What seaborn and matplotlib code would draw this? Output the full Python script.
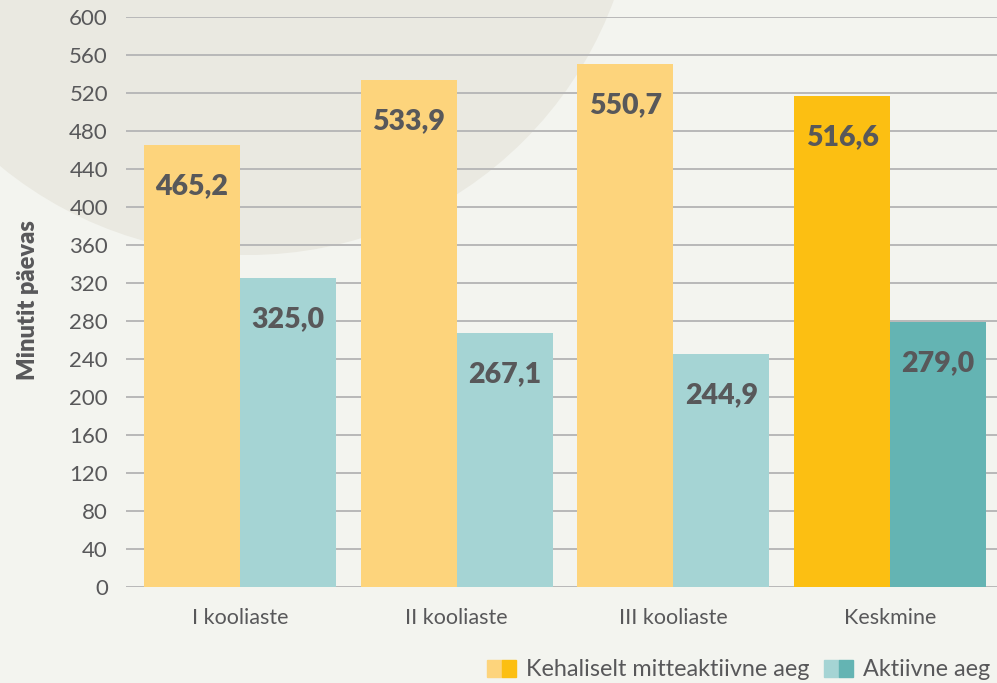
import matplotlib
matplotlib.use("Agg")
import matplotlib.pyplot as plt
import matplotlib.patches as mpatches
from matplotlib.transforms import IdentityTransform
from matplotlib.legend_handler import HandlerTuple
import seaborn as sns
import pandas as pd

categories = ["I kooliaste", "II kooliaste", "III kooliaste", "Keskmine"]
inactive = [465.2, 533.9, 550.7, 516.6]
active = [325.0, 267.1, 244.9, 279.0]
series_names = ["Kehaliselt mitteaktiivne aeg", "Aktiivne aeg"]
yticks = list(range(0, 601, 40))

BG = "#f3f4ef"
CIRCLE = "#eae9e1"
Y_LIGHT, Y_DARK = "#fdd47c", "#fcbf12"
T_LIGHT, T_DARK = "#a5d4d4", "#64b4b3"
TXT = "#58585a"
GRID = "#b8b8b8"

df = pd.DataFrame({
    "cat": categories * 2,
    "val": inactive + active,
    "series": [series_names[0]] * 4 + [series_names[1]] * 4,
})

sns.set_theme(style="white")
plt.rcParams["font.family"] = ["Lato", "DejaVu Sans"]

fig = plt.figure(figsize=(9.97, 6.83), dpi=100, facecolor=BG)
circ = mpatches.Circle((248, 683 + 135), 390, transform=IdentityTransform(),
                       facecolor=CIRCLE, edgecolor="none", zorder=0)
fig.add_artist(circ)

ax = fig.add_axes([126 / 997, 96 / 683, 1 - 126 / 997, (587 - 17) / 683])
ax.set_facecolor("none")
ax.set_zorder(1)

sns.barplot(data=df, x="cat", y="val", hue="series", order=categories,
            hue_order=series_names, palette=[Y_LIGHT, T_LIGHT], width=0.885,
            saturation=1, legend=False, ax=ax, zorder=3, linewidth=0)

ax.containers[0][3].set_facecolor(Y_DARK)
ax.containers[1][3].set_facecolor(T_DARK)

for cont, vals in zip(ax.containers, [inactive, active]):
    for bar, v in zip(cont, vals):
        ax.annotate(f"{v:.1f}".replace(".", ","),
                    xy=(bar.get_x() + bar.get_width() / 2, bar.get_height()),
                    xytext=(0, -29.5), textcoords="offset points",
                    ha="center", va="center", fontsize=20.5, fontweight="heavy",
                    color=TXT, zorder=5)

ax.set_xlim(-0.525, 3.493)
ax.set_ylim(0, 600)
ax.set_yticks(yticks)
ax.yaxis.grid(True, color=GRID, linewidth=1.4, zorder=1)
ax.set_axisbelow(True)
for s in ax.spines.values():
    s.set_visible(False)
ax.tick_params(axis="y", length=0, pad=13, labelsize=16, labelcolor=TXT)
ax.tick_params(axis="x", length=0, pad=15, labelsize=15.5, labelcolor=TXT)
ax.set_xlabel("")
ax.set_ylabel("")

fig.text(28 / 997, 1 - 300 / 683, "Minutit päevas", rotation=90, ha="center",
         va="center", fontsize=17, fontweight="heavy", color=TXT)

h1 = (mpatches.Patch(color=Y_LIGHT), mpatches.Patch(color=Y_DARK))
h2 = (mpatches.Patch(color=T_LIGHT), mpatches.Patch(color=T_DARK))
leg = fig.legend([h1, h2], series_names,
                 handler_map={tuple: HandlerTuple(ndivide=None, pad=0)},
                 loc="center left", bbox_to_anchor=(487 / 997, 13 / 683),
                 ncol=2, frameon=False, fontsize=16.8, handlelength=1.25,
                 handleheight=0.7, handletextpad=0.4, columnspacing=0.65,
                 borderpad=0, borderaxespad=0)
for t in leg.get_texts():
    t.set_color(TXT)

fig.savefig("out.png", dpi=100, facecolor=BG)
